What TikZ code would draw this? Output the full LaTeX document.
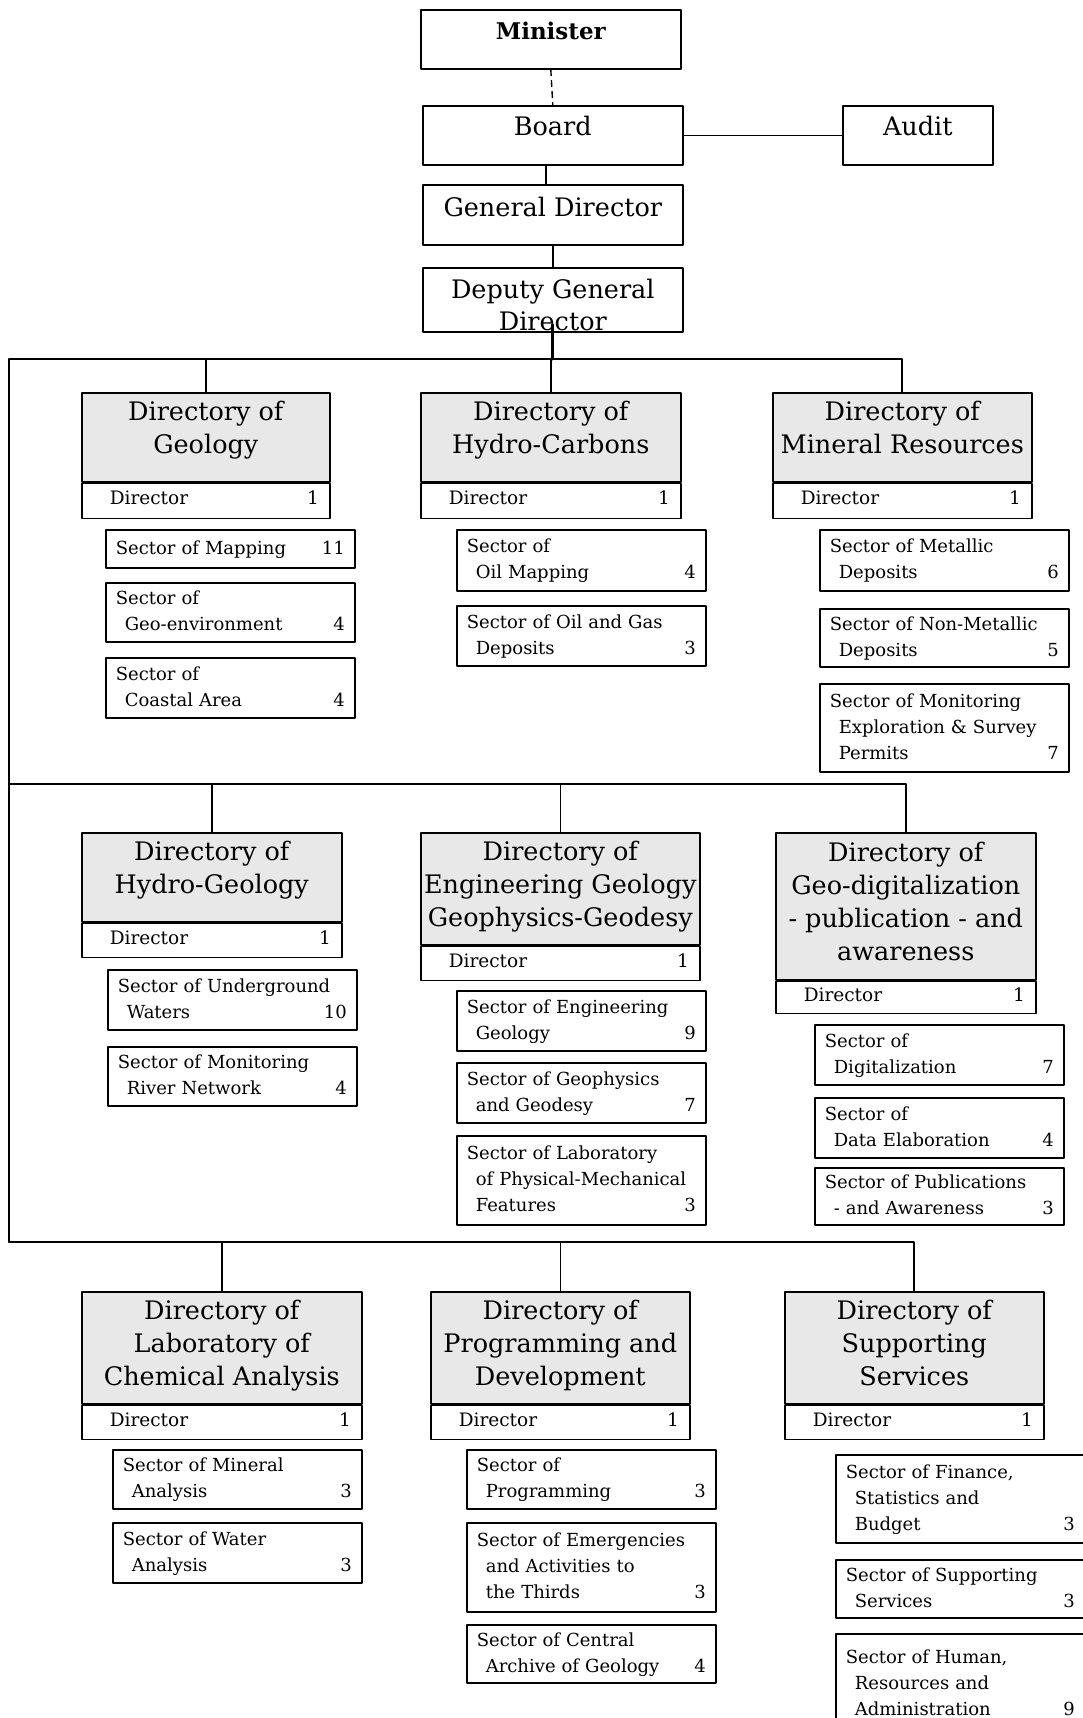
\documentclass[tikz,border=0pt]{standalone}
\usepackage{fontspec}
\setmainfont{DejaVu Serif}
\usetikzlibrary{positioning}
\newcommand{\cnt}[1]{\hspace{0pt plus 1filll}#1}
\newcommand{\ind}{\hspace*{0.5em}}
\tikzset{
  box/.style={draw, line width=1.6pt, anchor=north west, inner sep=0pt},
  toptext/.style={font=\fontsize{25.5}{32}\selectfont, align=center, inner sep=0pt},
  dirtitle/.style={draw, line width=1.6pt, fill=black!9, anchor=north west, align=center,
    font=\fontsize{25.5}{33}\selectfont, inner sep=3pt, execute at end node=\strut},
  twoline/.style={execute at end node={\rule[-19pt]{0pt}{0pt}}},
  dirrow/.style={draw, line width=1.6pt, anchor=north west, align=left,
    font=\fontsize{18.5}{26}\selectfont, inner xsep=11pt, inner ysep=0pt, minimum height=35pt,
    execute at end node={\rule[-6pt]{0pt}{0pt}}},
  sector/.style={draw, line width=1.6pt, anchor=north west, align=left, text width=229pt,
    inner xsep=10pt, inner ysep=1.5pt, font=\fontsize{18}{26}\selectfont,
    execute at begin node={\rule{0pt}{19pt}}, execute at end node=\strut},
  link/.style={line width=1.4pt},
  bus/.style={line width=1.8pt},
}
\begin{document}
\begin{tikzpicture}[x=1pt,y=-1pt,line cap=round,line join=round]
\clip (0,0) rectangle (1083,1718);
% top of the chart
\node[box, minimum width=260pt, minimum height=59pt] (minister) at (420,9) {};
\node[toptext, font=\bfseries\fontsize{23}{32}\selectfont, below=13pt of minister.north] (ministertext) {Minister};
\node[box, minimum width=260pt, minimum height=59pt] (board) at (422,105) {};
\node[toptext, below=11pt of board.north] (boardtext) {Board};
\node[box, minimum width=150pt, minimum height=59pt] (audit) at (842,105) {};
\node[toptext, below=11pt of audit.north] (audittext) {Audit};
\node[box, minimum width=260pt, minimum height=60pt] (gendir) at (422,184) {};
\node[toptext, below=13pt of gendir.north] (gendirtext) {General Director};
\node[box, minimum width=260pt, minimum height=64pt] (dgd) at (422,267) {};
\begin{scope}
\clip (dgd.south west) rectangle (dgd.north east);
\node[toptext, below=12pt of dgd.north] (dgdtext) {Deputy General\\Director};
\end{scope}

\draw[link, dashed, dash pattern=on 6pt off 5pt] (minister.south) -- (board.north);
\draw[link] (board.east) -- (audit.west);
\draw[link] ([xshift=-7pt]board.south) -- ([xshift=-7pt]gendir.north);
\draw[link] (gendir.south) -- (dgd.north);

% bus lines
\coordinate (b1) at (9,359);
\coordinate (b2) at (9,784);
\coordinate (b3) at (9,1242);

% first row
\node[dirtitle, twoline, minimum width=248pt, minimum height=89pt] (geo) at (81,392) {Directory of\\Geology};
\node[dirrow, text width=226pt] (geodir) at (geo.south west) {\hspace*{17pt}Director\cnt{1}};
\node[dirtitle, twoline, minimum width=260pt, minimum height=89pt] (hc) at (420,392) {Directory of\\Hydro-Carbons};
\node[dirrow, text width=238pt] (hcdir) at (hc.south west) {\hspace*{17pt}Director\cnt{1}};
\node[dirtitle, twoline, minimum width=259pt, minimum height=89pt] (mr) at (772,392) {Directory of\\Mineral Resources};
\node[dirrow, text width=237pt] (mrdir) at (mr.south west) {\hspace*{17pt}Director\cnt{1}};

\node[sector, minimum height=38pt] (geo1) at (105,529) {Sector of Mapping\cnt{11}};
\node[sector, minimum height=59pt] (geo2) at (105,582) {Sector of\\\ind Geo-environment\cnt{4}};
\node[sector, minimum height=60pt] (geo3) at (105,657) {Sector of\\\ind Coastal Area\cnt{4}};
\node[sector, minimum height=61pt] (hc1) at (456,529) {Sector of\\\ind Oil Mapping\cnt{4}};
\node[sector, minimum height=60pt] (hc2) at (456,605) {Sector of Oil and Gas\\\ind Deposits\cnt{3}};
\node[sector, minimum height=61pt] (mr1) at (819,529) {Sector of Metallic\\\ind Deposits\cnt{6}};
\node[sector, minimum height=58pt] (mr2) at (819,608) {Sector of Non-Metallic\\\ind Deposits\cnt{5}};
\node[sector, minimum height=88pt] (mr3) at (819,683) {Sector of Monitoring\\\ind Exploration \& Survey\\\ind Permits\cnt{7}};

% second row
\node[dirtitle, twoline, minimum width=260pt, minimum height=89pt] (hg) at (81,832) {Directory of\\Hydro-Geology};
\node[dirrow, text width=238pt, minimum height=34pt] (hgdir) at (hg.south west) {\hspace*{17pt}Director\cnt{1}};
\node[dirtitle, minimum width=279pt, minimum height=112pt] (eg) at (420,832) {Directory of\\Engineering Geology\\Geophysics-Geodesy};
\node[dirrow, text width=257pt, minimum height=34pt] (egdir) at (eg.south west) {\hspace*{17pt}Director\cnt{1}};
\node[dirtitle, minimum width=260pt, minimum height=147pt] (gd) at (775,832) {Directory of\\Geo-digitalization\\- publication - and\\awareness};
\node[dirrow, text width=238pt, minimum height=32pt] (gddir) at (gd.south west) {\hspace*{17pt}Director\cnt{1}};

\node[sector, minimum height=60pt] (hg1) at (107,969) {Sector of Underground\\\ind Waters\cnt{10}};
\node[sector, minimum height=59pt] (hg2) at (107,1046) {Sector of Monitoring\\\ind River Network\cnt{4}};
\node[sector, minimum height=60pt] (eg1) at (456,990) {Sector of Engineering\\\ind Geology\cnt{9}};
\node[sector, minimum height=60pt] (eg2) at (456,1062) {Sector of Geophysics\\\ind and Geodesy\cnt{7}};
\node[sector, minimum height=89pt] (eg3) at (456,1135) {Sector of Laboratory\\\ind of Physical-Mechanical\\\ind Features\cnt{3}};
\node[sector, minimum height=60pt] (gd1) at (814,1024) {Sector of\\\ind Digitalization\cnt{7}};
\node[sector, minimum height=60pt] (gd2) at (814,1097) {Sector of\\\ind Data Elaboration\cnt{4}};
\node[sector, minimum height=57pt] (gd3) at (814,1167) {Sector of Publications\\\ind - and Awareness\cnt{3}};

% third row
\node[dirtitle, minimum width=280pt, minimum height=112pt] (chem) at (81,1291) {Directory of\\Laboratory of\\Chemical Analysis};
\node[dirrow, text width=258pt, minimum height=34pt] (chemdir) at (chem.south west) {\hspace*{17pt}Director\cnt{1}};
\node[dirtitle, minimum width=259pt, minimum height=112pt] (prog) at (430,1291) {Directory of\\Programming and\\Development};
\node[dirrow, text width=237pt, minimum height=34pt] (progdir) at (prog.south west) {\hspace*{17pt}Director\cnt{1}};
\node[dirtitle, minimum width=259pt, minimum height=112pt] (sup) at (784,1291) {Directory of\\Supporting\\Services};
\node[dirrow, text width=237pt, minimum height=34pt] (supdir) at (sup.south west) {\hspace*{17pt}Director\cnt{1}};

\node[sector, minimum height=59pt] (chem1) at (112,1449) {Sector of Mineral\\\ind Analysis\cnt{3}};
\node[sector, minimum height=60pt] (chem2) at (112,1522) {Sector of Water\\\ind Analysis\cnt{3}};
\node[sector, minimum height=59pt] (prog1) at (466,1449) {Sector of\\\ind Programming\cnt{3}};
\node[sector, minimum height=89pt] (prog2) at (466,1522) {Sector of Emergencies\\\ind and Activities to\\\ind the Thirds\cnt{3}};
\node[sector, minimum height=58pt] (prog3) at (466,1624) {Sector of Central\\\ind Archive of Geology\cnt{4}};
\node[sector, minimum height=88pt] (sup1) at (835,1454) {Sector of Finance,\\\ind Statistics and\\\ind Budget\cnt{3}};
\node[sector, minimum height=58pt] (sup2) at (835,1559) {Sector of Supporting\\\ind Services\cnt{3}};
\node[sector, minimum height=100pt] (sup3) at (835,1633) {Sector of Human,\\\ind Resources and\\\ind Administration\cnt{9}};

% connectors
\draw[line width=3pt] ([yshift=8pt]dgd.south) -- (dgd.south |- b1);
\draw[bus] (b1) -- (b3);
\draw[bus] (b1) -- (mr.north |- b1) -- (mr.north);
\draw[bus] (b2) -- (gd.north |- b2) -- (gd.north);
\draw[bus] (b3) -- (sup.north |- b3) -- (sup.north);
\draw[link] (geo.north) -- (geo.north |- b1);
\draw[link] (hc.north) -- (hc.north |- b1);
\draw[link] (hg.north) -- (hg.north |- b2);
\draw[link] (eg.north) -- (eg.north |- b2);
\draw[link] (chem.north) -- (chem.north |- b3);
\draw[link] (prog.north) -- (prog.north |- b3);
\end{tikzpicture}
\end{document}
